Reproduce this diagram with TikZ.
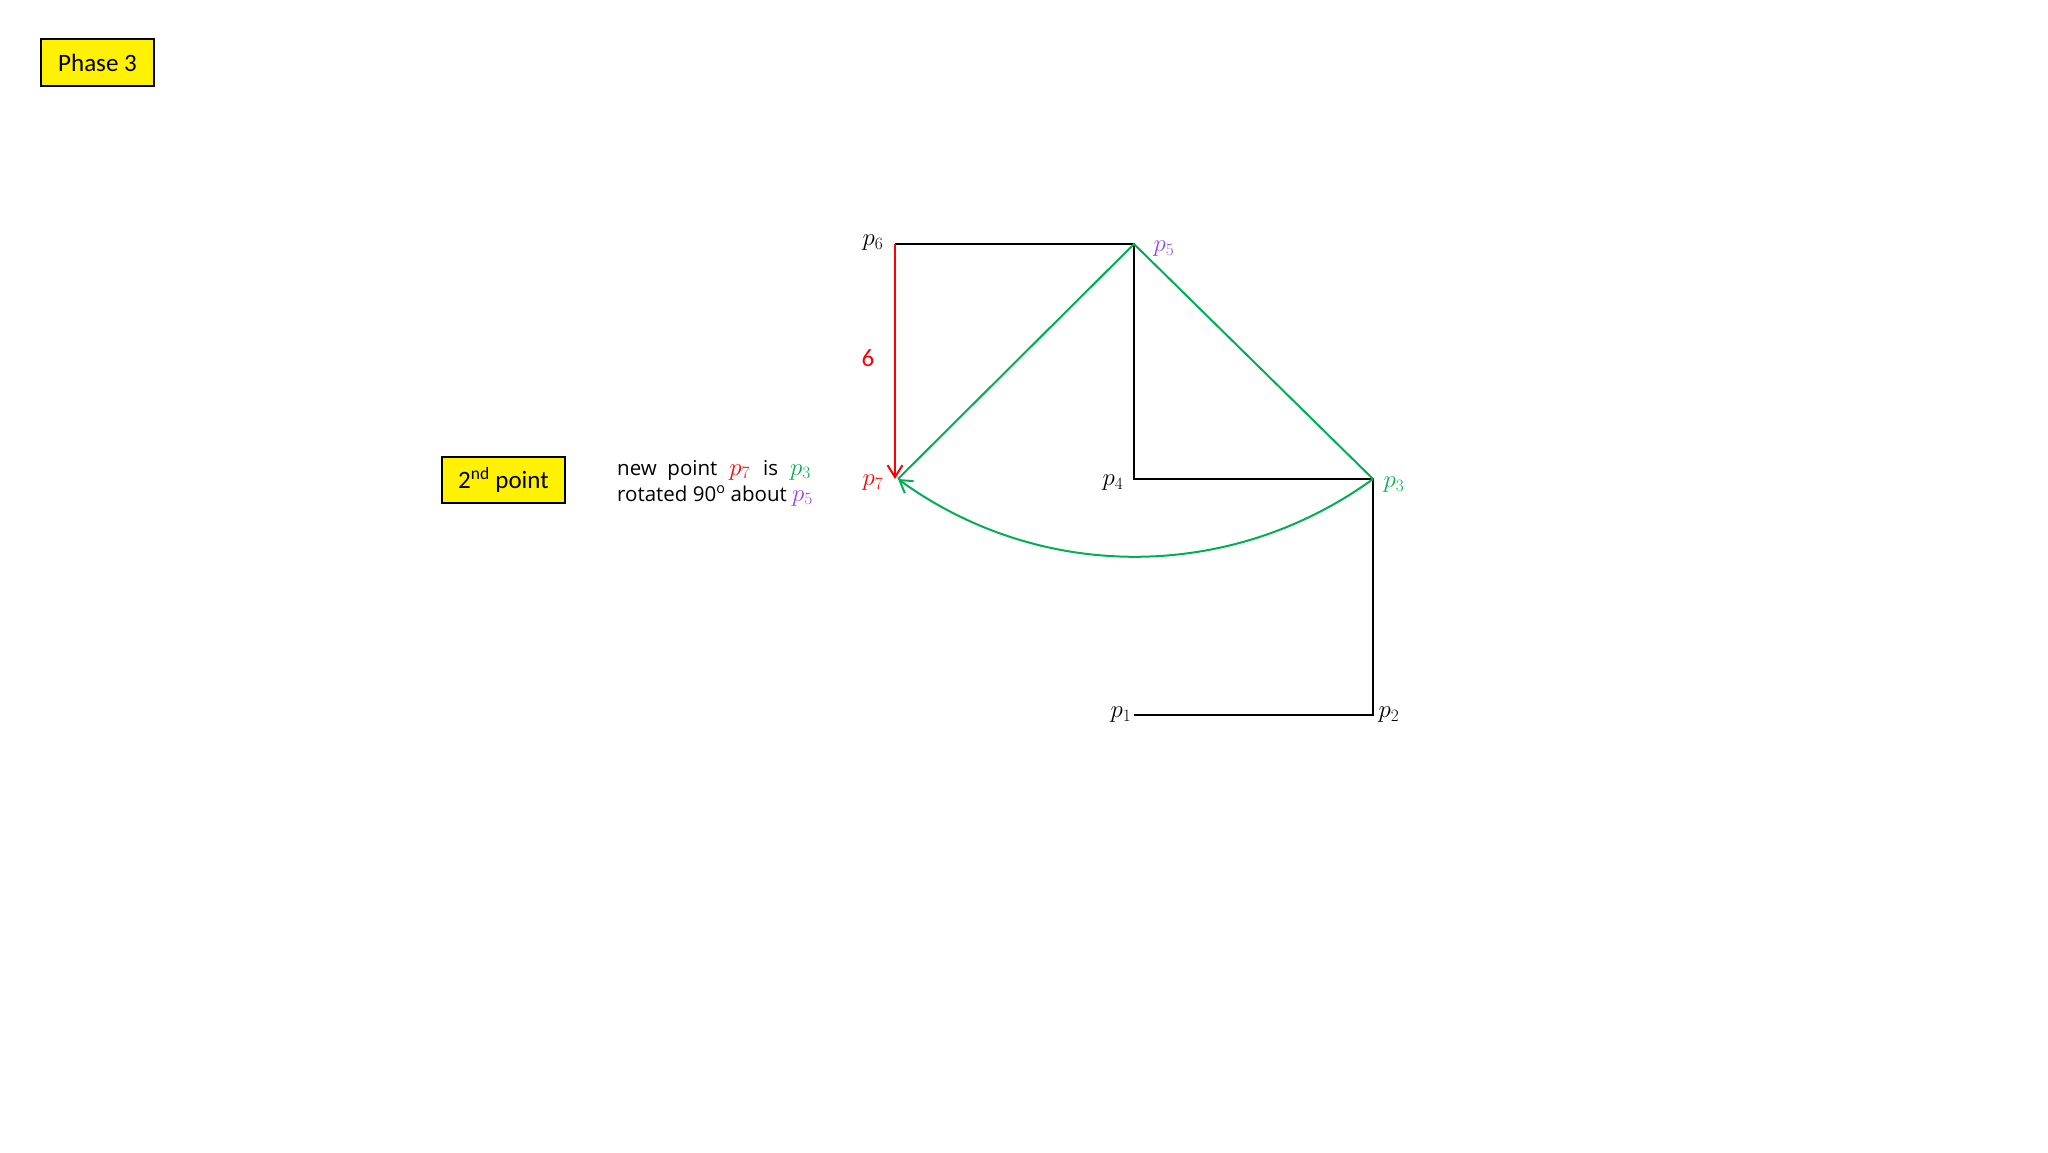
\documentclass[tikz,border=0pt]{standalone}
\usepackage{fontspec}
\setmainfont{Carlito}
\newfontfamily\txtfont{Open Sans}
\usetikzlibrary{arrows.meta}
\definecolor{mygreen}{RGB}{0,176,80}
\definecolor{myred}{RGB}{255,0,0}
\definecolor{mypurple}{RGB}{146,70,240}
\newcommand{\ptmath}[2]{\textcolor{#1}{\fontsize{25}{28}\selectfont$#2$}}
\begin{document}
\begin{tikzpicture}[x=1pt,y=-1pt,
  blk/.style={line width=2.4pt,black},
  grn/.style={line width=2pt,mygreen},
  tagbox/.style={draw=black,line width=2pt,fill=yellow,inner sep=0pt,font=\fontsize{25}{30}\selectfont},
  lbl/.style={inner sep=0pt,font=\fontsize{27}{30}\selectfont},
  tip/.style={-{Straight Barb[length=12pt,width=15pt,line width=2pt]}}]
\useasboundingbox (0,0) rectangle (2048,1152);
% points
\coordinate (p1) at (1134,715);
\coordinate (p2) at (1373,715);
\coordinate (p3) at (1373,479);
\coordinate (p4) at (1134,479);
\coordinate (p5) at (1134,244);
\coordinate (p6) at (895,244);
\coordinate (p7) at (895,479);
% boxes
\node[tagbox,minimum width=113pt,minimum height=47pt] (phase) at (97.5,62.5) {Phase 3};
\node[tagbox,minimum width=123pt,minimum height=46pt] (second) at (503.5,480) {2\textsuperscript{nd} point};
% text
\node[anchor=base west,inner sep=0pt,font=\txtfont\fontsize{20.5}{25}\selectfont] (desc1) at (617,475)
  {new\ \ point\hspace{12pt}\ptmath{myred}{p_7}\hspace{13pt}is\hspace{12pt}\ptmath{mygreen}{p_3}};
\node[anchor=base west,inner sep=0pt,font=\txtfont\fontsize{20.5}{25}\selectfont] (desc2) at (617,501)
  {rotated 90\textsuperscript{o} about \ptmath{mypurple}{p_5}};
% black path
\draw[blk,line join=miter] (p1) -- (p2) -- (p3) -- (p4) -- (p5) -- (p6);
% green lines
\draw[grn] (p3) -- (p5) -- ([xshift=3pt]p7);
% red arrow
\draw[tip,myred,line width=2pt] (p6) -- (p7);
% green arc
\draw[grn,tip] (p3) to[bend left=36,looseness=0.95] ([xshift=3pt]p7);
% labels
\node[lbl] (l6) at (873,243) {$p_6$};
\node[lbl,text=mypurple] (l5) at (1164,249) {$p_5$};
\node[lbl,text=myred] (l7) at (873,483) {$p_7$};
\node[lbl] (l4) at (1113,483) {$p_4$};
\node[lbl,text=mygreen] (l3) at (1394,485) {$p_3$};
\node[lbl] (l1) at (1121,715) {$p_1$};
\node[lbl] (l2) at (1389,715) {$p_2$};
\node[inner sep=0pt,text=myred,font=\fontsize{25}{28}\selectfont] (six) at (868,358) {6};
\end{tikzpicture}
\end{document}
